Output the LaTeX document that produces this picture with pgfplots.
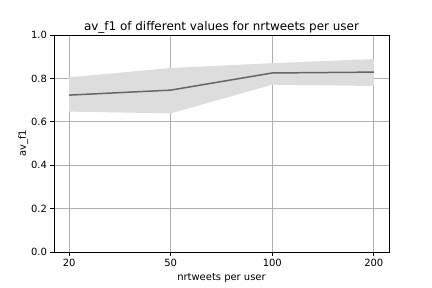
\documentclass[border=0pt]{standalone}
\usepackage{fontspec}
\setmainfont{DejaVu Sans}
\usepackage{pgfplots}
\pgfplotsset{compat=1.18}
\usepgfplotslibrary{fillbetween}
\definecolor{band}{HTML}{DDDDDD}
\definecolor{linec}{HTML}{666666}
\definecolor{gridc}{HTML}{B0B0B0}

\begin{document}
\begin{tikzpicture}
\begin{axis}[
  at={(0,0)}, anchor=south west,
  scale only axis,
  width=335bp, height=217bp,
  xmin=-0.15, xmax=3.15,
  ymin=0, ymax=1,
  xtick={0,1,2,3},
  xticklabels={20,50,100,200},
  ytick={0,0.2,0.4,0.6,0.8,1.0},
  yticklabel style={/pgf/number format/.cd,fixed,fixed zerofill,precision=1},
  /pgf/number format/assume math mode=true,
  tick label style={font=\fontsize{10}{12}\selectfont},
  label style={font=\fontsize{10}{12}\selectfont},
  title style={font=\fontsize{12}{14}\selectfont, yshift=-8bp},
  title={av\_f1 of different values for nrtweets per user},
  xlabel={nrtweets per user},
  ylabel={av\_f1},
  ylabel style={yshift=-4bp},
  grid=major,
  major grid style={gridc, line width=0.8bp},
  tick align=outside,
  tick pos=left,
  major tick length=3.5bp,
  axis line style={black, line width=0.8bp},
  every tick/.style={black, line width=0.8bp},
]
\addplot[name path=up, draw=none, forget plot] coordinates {
  (0,0.805) (1,0.848) (2,0.870) (3,0.889)
};
\addplot[name path=lo, draw=none, forget plot] coordinates {
  (0,0.647) (1,0.639) (2,0.771) (3,0.765)
};
\addplot[band, draw=none, forget plot] fill between[of=up and lo];
\addplot[linec, line width=1.5bp, mark=none] coordinates {
  (0,0.723) (1,0.746) (2,0.825) (3,0.829)
};
\end{axis}
\pgfresetboundingbox
\path[use as bounding box] (-54bp,-36bp) rectangle (378bp,252bp);
\end{tikzpicture}
\end{document}
